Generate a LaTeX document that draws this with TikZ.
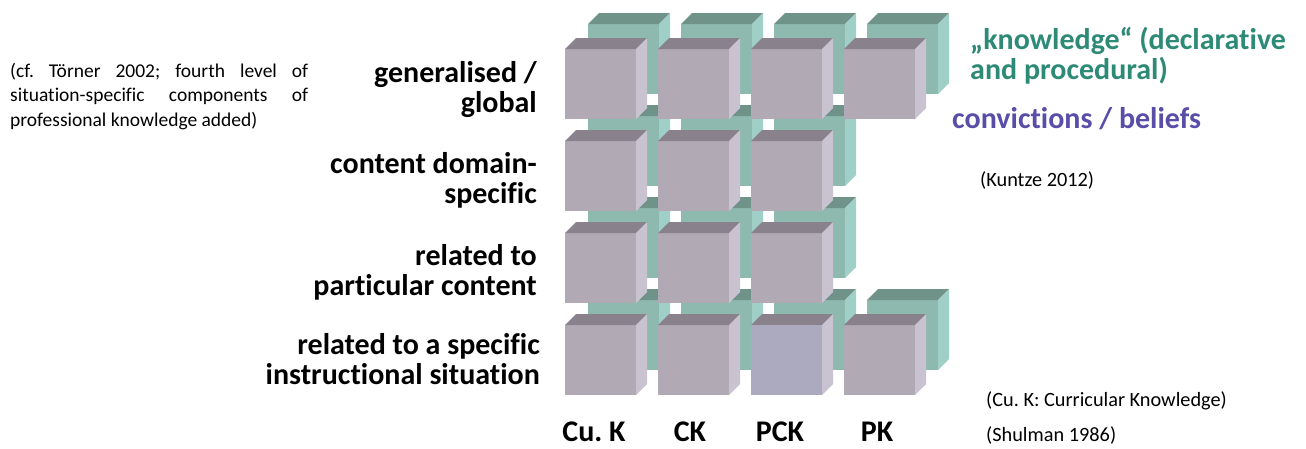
\documentclass[tikz,border=0pt]{standalone}
\usepackage{fontspec}
\setmainfont{Carlito}[Ligatures=NoCommon]
\frenchspacing
\definecolor{gfront}{RGB}{177,170,181}
\definecolor{gtop}{RGB}{137,129,140}
\definecolor{gside}{RGB}{201,195,209}
\definecolor{pckfront}{RGB}{172,170,190}
\definecolor{tfront}{RGB}{142,185,174}
\definecolor{ttop}{RGB}{111,146,137}
\definecolor{tside}{RGB}{160,207,199}
\definecolor{knowcol}{RGB}{45,138,118}
\definecolor{belcol}{RGB}{88,78,168}
\newcommand\drawcube[5]{%
  \fill[#3] (#1,#2) rectangle ({#1+71},{#2+70});
  \fill[#4] (#1,#2) -- ++(11,-11) -- ++(71,0) -- ++(-11,11) -- cycle;
  \fill[#5] ({#1+71},#2) -- ++(11,-11) -- ++(0,70) -- ++(-11,11) -- cycle;}
\begin{document}
\begin{tikzpicture}[x=1pt,y=-1pt,
  big/.style={font=\fontsize{30}{29.5}\selectfont\bfseries, inner sep=0pt},
  small/.style={font=\fontsize{19.5}{24.5}\selectfont, inner sep=0pt},
  note/.style={font=\fontsize{20.3}{24.5}\selectfont, inner sep=0pt}]
\useasboundingbox (0,0) rectangle (1306,448);
% back layer (knowledge)
\foreach \c/\r in {0/0,1/0,2/0,3/0,0/1,1/1,2/1,0/2,1/2,2/2,0/3,1/3,2/3,3/3} {
  \pgfmathsetmacro\xx{565+93*\c+23}
  \pgfmathsetmacro\yy{49+92*\r-25}
  \drawcube{\xx}{\yy}{tfront}{ttop}{tside}
}
% front layer (beliefs)
\foreach \c/\r in {0/0,1/0,2/0,3/0,0/1,1/1,2/1,0/2,1/2,2/2,0/3,1/3,2/3,3/3} {
  \pgfmathsetmacro\xx{565+93*\c}
  \pgfmathsetmacro\yy{49+92*\r}
  \drawcube{\xx}{\yy}{gfront}{gtop}{gside}
}
\fill[pckfront] (751,325) rectangle (822,395);
% left reference text (anchor = baseline of last line)
\node[small, anchor=base west, align=left] (ref) at (10,126)
  {\makebox[298pt][s]{(cf. Törner 2002; fourth level of}\\
   \makebox[298pt][s]{situation-specific components of}\\
   professional knowledge added)};
% row labels
\node[big, anchor=base east, align=right] (row1) at (537,112) {generalised /\\global};
\node[big, anchor=base east, align=right] (row2) at (537,203) {content domain-\\specific};
\node[big, anchor=base east, align=right] (row3) at (537,295) {related to\\particular content};
\node[big, anchor=base east, align=right] (row4) at (540,384) {related to a specific\\instructional situation};
% column labels
\node[big, anchor=base] (col1) at (594,441) {Cu. K};
\node[big, anchor=base] (col2) at (690,441) {CK};
\node[big, anchor=base] (col3) at (780,441) {PCK};
\node[big, anchor=base] (col4) at (877,441) {PK};
% right texts
\node[big, anchor=base west, align=left, text=knowcol] (know) at (970,79)
  {„knowledge“ (declarative\\and procedural)};
\node[big, anchor=base west, text=belcol] (bel) at (952,128) {convictions / beliefs};
\node[note, anchor=base west] (kuntze) at (980,186) {(Kuntze 2012)};
\node[note, anchor=base west] (cuk) at (986,406) {(Cu. K: Curricular Knowledge)};
\node[note, anchor=base west] (shul) at (986,441) {(Shulman 1986)};
\end{tikzpicture}
\end{document}
